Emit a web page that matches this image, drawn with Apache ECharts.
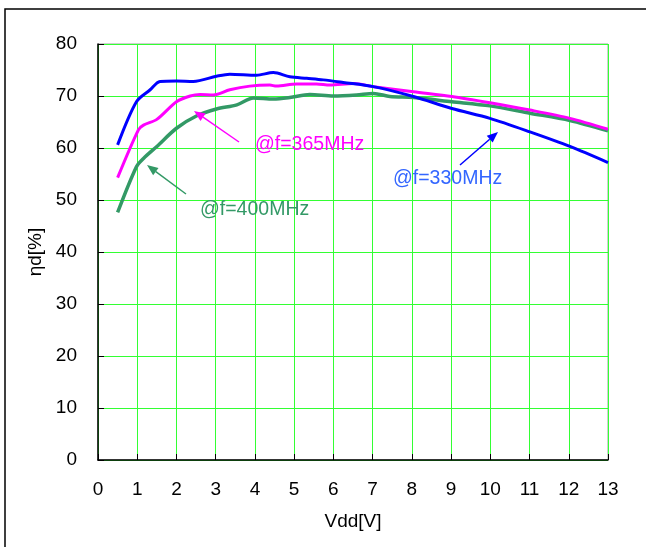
<!DOCTYPE html>
<html>
<head>
<meta charset="utf-8">
<script src="https://cdn.jsdelivr.net/npm/echarts@6/dist/echarts.min.js"></script>
<style>
html,body{margin:0;padding:0;background:#fff;}
#chart{width:646px;height:547px;}
</style>
</head>
<body>
<div id="chart"></div>
<script>
// Data: [Vdd, efficiency %]
var f330 = [[0.5,60.6],[0.98,68.9],[1.33,71.2],[1.58,72.8],[2.0,72.9],[2.43,72.8],[3.02,73.8],[3.36,74.2],[4.04,74.0],[4.47,74.5],[4.89,73.7],[5.32,73.4],[5.74,73.1],[6.25,72.6],[7.02,71.8],[8.04,69.9],[9.02,67.6],[9.99,65.7],[11.01,63.1],[12.03,60.3],[13.0,57.2]];
var f365 = [[0.5,54.3],[1.03,63.5],[1.16,64.4],[1.5,65.5],[2.0,68.9],[2.35,70.0],[2.6,70.3],[2.94,70.2],[3.36,71.2],[3.87,71.9],[4.38,72.1],[4.55,71.9],[5.06,72.3],[5.57,72.3],[5.91,72.1],[6.51,72.4],[7.02,71.8],[8.04,70.8],[9.02,69.9],[9.99,68.7],[11.01,67.3],[12.03,65.7],[13.0,63.6]];
var f400 = [[0.5,47.6],[0.98,56.4],[1.16,58.0],[1.5,60.3],[2.0,63.8],[2.52,66.2],[3.02,67.5],[3.54,68.3],[3.96,69.6],[4.47,69.4],[4.89,69.7],[5.4,70.3],[6.0,70.0],[6.59,70.2],[7.02,70.5],[7.44,69.9],[8.04,69.7],[9.02,68.9],[9.99,68.1],[11.01,66.7],[12.03,65.3],[13.0,63.3]];
var seriesNames = ['@f=330MHz','@f=365MHz','@f=400MHz'];
var xTitle = 'Vdd[V]';
var yTitle = 'ηd[%]';

var FONT = '"Liberation Sans", Arial, sans-serif';
var chart = echarts.init(document.getElementById('chart'), null, {renderer:'canvas'});

function arrow(x1,y1,x2,y2,color){
  var dx=x2-x1, dy=y2-y1, L=Math.sqrt(dx*dx+dy*dy), ux=dx/L, uy=dy/L;
  var hl=11, hw=4.5;
  var bx=x2-ux*hl, by=y2-uy*hl;
  return [
    {type:'line', shape:{x1:x1,y1:y1,x2:bx,y2:by}, style:{stroke:color,lineWidth:1.5}, z:10},
    {type:'polygon', shape:{points:[[x2,y2],[bx-uy*hw,by+ux*hw],[bx+uy*hw,by-ux*hw]]}, style:{fill:color}, z:10}
  ];
}

var graphics = [
  {type:'rect', shape:{x:5,y:9,width:700,height:600}, style:{fill:null,stroke:'#000',lineWidth:1.5}, z:0, silent:true},
  {type:'text', left:255, top:135, style:{text:seriesNames[1], fill:'#ff00ff', font:'19.5px '+FONT}, z:10},
  {type:'text', left:200, top:200, style:{text:seriesNames[2], fill:'#339966', font:'19.5px '+FONT}, z:10},
  {type:'text', left:393, top:169, style:{text:seriesNames[0], fill:'#3366ff', font:'19.5px '+FONT}, z:10}
].concat(arrow(239,142,194,111,'#ff00ff'))
 .concat(arrow(186,194,147,165,'#339966'))
 .concat(arrow(460,165,498,132,'#0000ff'));

var option = {
  animation:false,
  backgroundColor:'#fff',
  grid:{left:98, right:38, top:44, bottom:87, show:true, borderColor:'#a0a0a0', borderWidth:1, backgroundColor:'transparent'},
  xAxis:{
    type:'value', min:0, max:13, interval:1,
    name:xTitle, nameLocation:'middle', nameGap:52,
    nameTextStyle:{color:'#000', fontSize:19, fontFamily:FONT},
    axisLine:{show:true, onZero:false, lineStyle:{color:'#000', width:1.5}},
    axisTick:{show:true, inside:true, length:6, lineStyle:{color:'#000'}},
    axisLabel:{color:'#000', fontSize:19, fontFamily:FONT, margin:20},
    splitLine:{show:true, lineStyle:{color:'#33ff33', width:1}}
  },
  yAxis:{
    type:'value', min:0, max:80, interval:10,
    name:yTitle, nameLocation:'middle', nameGap:49, nameRotate:90,
    nameTextStyle:{color:'#000', fontSize:19, fontFamily:FONT},
    axisLine:{show:true, lineStyle:{color:'#000', width:1.5}},
    axisTick:{show:true, inside:true, length:6, lineStyle:{color:'#000'}},
    axisLabel:{color:'#000', fontSize:19, fontFamily:FONT, margin:21},
    splitLine:{show:true, lineStyle:{color:'#33ff33', width:1}}
  },
  series:[
    {name:seriesNames[0], type:'line', data:f330, smooth:0.3, showSymbol:false, lineStyle:{color:'#0000ff', width:3}, z:5},
    {name:seriesNames[1], type:'line', data:f365, smooth:0.3, showSymbol:false, lineStyle:{color:'#ff00ff', width:3}, z:4},
    {name:seriesNames[2], type:'line', data:f400, smooth:0.3, showSymbol:false, lineStyle:{color:'#339966', width:3.5}, z:3}
  ],
  graphic:graphics
};
chart.setOption(option);
</script>
</body>
</html>
